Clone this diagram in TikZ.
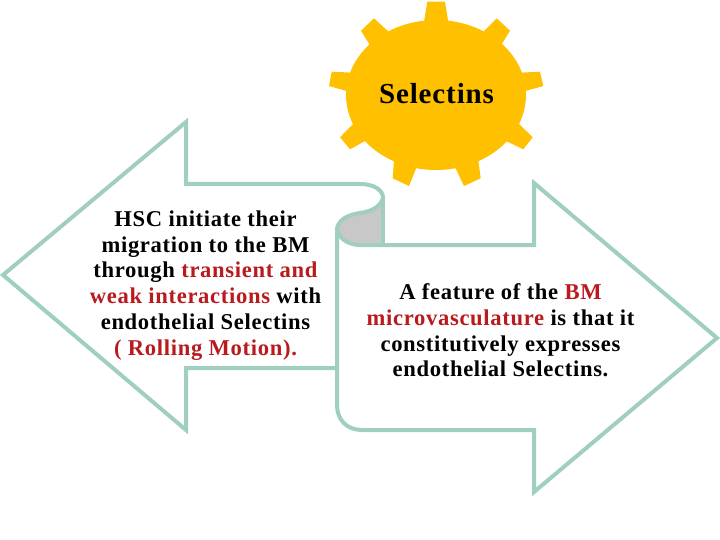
\documentclass[tikz,border=0pt]{standalone}
\usepackage{fontspec}
\setmainfont{Liberation Serif}[LetterSpace=3]
\definecolor{gearc}{HTML}{FFC000}
\definecolor{linec}{HTML}{A0CFBD}
\definecolor{redt}{HTML}{B81A1E}
\definecolor{scrollc}{HTML}{C8C8C8}
\tikzset{
 edgeonly/.style={draw=linec,line width=4pt},
 body/.style={font=\bfseries\fontsize{22.6}{25.7}\selectfont,align=center,text=black,inner sep=0pt},
}
\begin{document}
\begin{tikzpicture}[x=1pt,y=-1pt]
\useasboundingbox (0,0) rectangle (720,540);
% gear
\fill[gearc] (436,95) ellipse [x radius=90,y radius=75];
\fill[gearc] (427.3,1.7)--(445,1.7)--(448.3,22)--(424,22)--cycle;
\fill[gearc] (482,33)--(496.7,18.3)--(510,30.7)--(500,47)--cycle;
\fill[gearc] (520,72.7)--(540,71.7)--(543.3,86)--(523,91.7)--cycle;
\fill[gearc] (517,122)--(532.7,137.3)--(523.3,149.3)--(504,140)--cycle;
\fill[gearc] (478.3,160)--(480.7,178.3)--(464,186)--(455,167)--cycle;
\fill[gearc] (416.7,167)--(409,186)--(392.7,178.3)--(394,160)--cycle;
\fill[gearc] (367,140)--(350,149.3)--(340,137.3)--(355,122)--cycle;
\fill[gearc] (349,91.7)--(329,86)--(331.7,71.7)--(353,72.7)--cycle;
\fill[gearc] (371,47)--(361,30.7)--(374,18.3)--(390,33)--cycle;
\node[inner sep=0pt,font=\bfseries\fontsize{29}{32}\selectfont] (gearlabel) at (436.5,94) {Selectins};
% scroll fill
\fill[scrollc] (337,228) .. controls (340,217) and (352,214) .. (363,212.5) .. controls (372,211) and (381,206) .. (383,196) -- (383,245) -- (358,245) .. controls (347,244) and (338,238) .. (337,228) -- cycle;
% right arrow
\draw[edgeonly,line join=miter] (383,245) -- (534,245) -- (534,183) -- (717,338) -- (534,492) -- (534,430) -- (362,430) .. controls (347,430) and (337,420) .. (337,405) -- (337,228);
% left arrow
\draw[edgeonly,line join=miter] (337,368) -- (186,368) -- (186,430) -- (3,275) -- (186,122) -- (186,184) -- (360,184) .. controls (374,184) and (383,190) .. (383,198) .. controls (381,206) and (372,211) .. (363,212.5) .. controls (352,214) and (340,217) .. (337,228) .. controls (338,238) and (347,244) .. (358,245) -- (383,245);
\draw[edgeonly] (383,196) -- (383,245);
% texts
\node[body] (lefttext) at (205.5,285.5) {HSC initiate their\\migration to the BM\\through \textcolor{redt}{transient and}\\\textcolor{redt}{weak interactions} with\\endothelial Selectins\\\textcolor{redt}{( Rolling Motion).}};
\node[body] (righttext) at (500.5,330.5) {A feature of the \textcolor{redt}{BM}\\\textcolor{redt}{microvasculature} is that it\\constitutively expresses\\endothelial Selectins.};
\end{tikzpicture}
\end{document}
